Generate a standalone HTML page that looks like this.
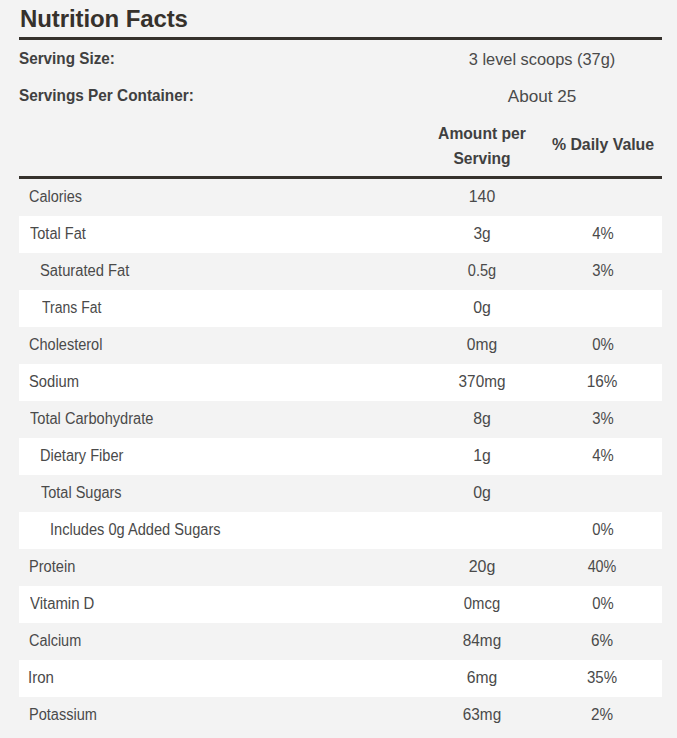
<!DOCTYPE html>
<html><head><meta charset="utf-8">
<style>
html,body{margin:0;padding:0;background:#f3f3f3;width:677px;height:738px;overflow:hidden;}
body{font-family:"Liberation Sans",sans-serif;color:#4a4a4a;position:relative;}
.h1{position:absolute;left:20px;top:4px;margin:0;font-size:24px;font-weight:bold;color:#36312c;line-height:30px;white-space:nowrap;letter-spacing:-0.1px;}
.rule{position:absolute;left:19px;width:643px;height:3px;background:#35312c;}
.t{position:absolute;white-space:nowrap;line-height:20px;}
.b{font-weight:bold;color:#404040;}
.row{position:absolute;left:19px;width:643px;height:37px;}
.w{background:#fff;}
.r{font-size:16px;letter-spacing:0px;}
</style></head><body>

<div class="h1">Nutrition Facts</div>
<div class="rule" style="top:37px"></div>
<div class="rule" style="top:176px"></div>
<div class="row" style="top:179px"></div>
<div class="row w" style="top:216px"></div>
<div class="row" style="top:253px"></div>
<div class="row w" style="top:290px"></div>
<div class="row" style="top:327px"></div>
<div class="row w" style="top:364px"></div>
<div class="row" style="top:401px"></div>
<div class="row w" style="top:438px"></div>
<div class="row" style="top:475px"></div>
<div class="row w" style="top:512px"></div>
<div class="row" style="top:549px"></div>
<div class="row w" style="top:586px"></div>
<div class="row" style="top:623px"></div>
<div class="row w" style="top:660px"></div>
<div class="row" style="top:697px"></div>
<div id="ss" class="t b" style="top:48.00px;left:18.80px;transform:scale(0.9251,1.0000);transform-origin:0 0;font-size:16.5px;">Serving Size:</div>
<div id="ssv" class="t r" style="top:50.00px;left:541.60px;transform:translateX(-50%) scale(1.0232,1.0000);transform-origin:50% 0;">3 level scoops (37g)</div>
<div id="spc" class="t b" style="top:85.00px;left:18.60px;transform:scale(0.9299,1.0000);transform-origin:0 0;font-size:16.5px;">Servings Per Container:</div>
<div id="spcv" class="t r" style="top:87.00px;left:541.60px;transform:translateX(-50%) scale(1.0694,1.0000);transform-origin:50% 0;">About 25</div>
<div id="amt1" class="t b" style="top:124.00px;left:481.50px;transform:translateX(-50%) scale(0.9776,1.0000);transform-origin:50% 0;font-size:16px;">Amount per</div>
<div id="amt2" class="t b" style="top:149.00px;left:482.00px;transform:translateX(-50%) scale(0.9736,1.0000);transform-origin:50% 0;font-size:16px;">Serving</div>
<div id="dvh" class="t b" style="top:135.00px;left:602.70px;transform:translateX(-50%) scale(0.9910,1.0000);transform-origin:50% 0;font-size:16px;">% Daily Value</div>
<div id="n0" class="t r" style="top:186.50px;left:28.90px;transform:scale(0.9010,1.0000);transform-origin:0 0;">Calories</div>
<div id="a0" class="t r" style="top:186.50px;left:481.55px;transform:translateX(-50%) scale(0.9889,1.0000);transform-origin:50% 0;">140</div>
<div id="n1" class="t r" style="top:223.50px;left:30.35px;transform:scale(0.9090,1.0000);transform-origin:0 0;">Total Fat</div>
<div id="a1" class="t r" style="top:223.50px;left:482.00px;transform:translateX(-50%) scale(0.9664,1.0000);transform-origin:50% 0;">3g</div>
<div id="d1" class="t r" style="top:223.50px;left:602.65px;transform:translateX(-50%) scale(0.9263,1.0000);transform-origin:50% 0;">4%</div>
<div id="n2" class="t r" style="top:260.50px;left:39.90px;transform:scale(0.9222,1.0000);transform-origin:0 0;">Saturated Fat</div>
<div id="a2" class="t r" style="top:260.50px;left:481.95px;transform:translateX(-50%) scale(0.9087,1.0000);transform-origin:50% 0;">0.5g</div>
<div id="d2" class="t r" style="top:260.50px;left:602.65px;transform:translateX(-50%) scale(0.9263,1.0000);transform-origin:50% 0;">3%</div>
<div id="n3" class="t r" style="top:297.50px;left:41.50px;transform:scale(0.8745,1.0000);transform-origin:0 0;">Trans Fat</div>
<div id="a3" class="t r" style="top:297.50px;left:481.70px;transform:translateX(-50%) scale(0.9909,1.0000);transform-origin:50% 0;">0g</div>
<div id="n4" class="t r" style="top:334.50px;left:28.90px;transform:scale(0.9072,1.0000);transform-origin:0 0;">Cholesterol</div>
<div id="a4" class="t r" style="top:334.50px;left:481.50px;transform:translateX(-50%) scale(0.9749,1.0000);transform-origin:50% 0;">0mg</div>
<div id="d4" class="t r" style="top:334.50px;left:602.60px;transform:translateX(-50%) scale(0.9352,1.0000);transform-origin:50% 0;">0%</div>
<div id="n5" class="t r" style="top:371.50px;left:28.90px;transform:scale(0.9202,1.0000);transform-origin:0 0;">Sodium</div>
<div id="a5" class="t r" style="top:371.50px;left:481.50px;transform:translateX(-50%) scale(0.9559,1.0000);transform-origin:50% 0;">370mg</div>
<div id="d5" class="t r" style="top:371.50px;left:602.40px;transform:translateX(-50%) scale(0.9564,1.0000);transform-origin:50% 0;">16%</div>
<div id="n6" class="t r" style="top:408.50px;left:30.40px;transform:scale(0.9124,1.0000);transform-origin:0 0;">Total Carbohydrate</div>
<div id="a6" class="t r" style="top:408.50px;left:481.70px;transform:translateX(-50%) scale(0.9909,1.0000);transform-origin:50% 0;">8g</div>
<div id="d6" class="t r" style="top:408.50px;left:602.65px;transform:translateX(-50%) scale(0.9263,1.0000);transform-origin:50% 0;">3%</div>
<div id="n7" class="t r" style="top:445.50px;left:40.25px;transform:scale(0.9105,1.0000);transform-origin:0 0;">Dietary Fiber</div>
<div id="a7" class="t r" style="top:445.50px;left:481.80px;transform:translateX(-50%) scale(0.9833,1.0000);transform-origin:50% 0;">1g</div>
<div id="d7" class="t r" style="top:445.50px;left:602.65px;transform:translateX(-50%) scale(0.9263,1.0000);transform-origin:50% 0;">4%</div>
<div id="n8" class="t r" style="top:482.50px;left:41.25px;transform:scale(0.9060,1.0000);transform-origin:0 0;">Total Sugars</div>
<div id="a8" class="t r" style="top:482.50px;left:481.70px;transform:translateX(-50%) scale(0.9909,1.0000);transform-origin:50% 0;">0g</div>
<div id="n9" class="t r" style="top:519.50px;left:50.30px;transform:scale(0.9131,1.0000);transform-origin:0 0;">Includes 0g Added Sugars</div>
<div id="d9" class="t r" style="top:519.50px;left:602.65px;transform:translateX(-50%) scale(0.9263,1.0000);transform-origin:50% 0;">0%</div>
<div id="n10" class="t r" style="top:556.50px;left:28.90px;transform:scale(0.9135,1.0000);transform-origin:0 0;">Protein</div>
<div id="a10" class="t r" style="top:556.50px;left:482.30px;transform:translateX(-50%) scale(0.9981,1.0000);transform-origin:50% 0;">20g</div>
<div id="d10" class="t r" style="top:556.50px;left:602.40px;transform:translateX(-50%) scale(0.8965,1.0000);transform-origin:50% 0;">40%</div>
<div id="n11" class="t r" style="top:593.50px;left:29.90px;transform:scale(0.9317,1.0000);transform-origin:0 0;">Vitamin D</div>
<div id="a11" class="t r" style="top:593.50px;left:482.15px;transform:translateX(-50%) scale(0.9270,1.0000);transform-origin:50% 0;">0mcg</div>
<div id="d11" class="t r" style="top:593.50px;left:602.65px;transform:translateX(-50%) scale(0.9263,1.0000);transform-origin:50% 0;">0%</div>
<div id="n12" class="t r" style="top:630.50px;left:28.90px;transform:scale(0.9030,1.0000);transform-origin:0 0;">Calcium</div>
<div id="a12" class="t r" style="top:630.50px;left:482.00px;transform:translateX(-50%) scale(0.9592,1.0000);transform-origin:50% 0;">84mg</div>
<div id="d12" class="t r" style="top:630.50px;left:601.60px;transform:translateX(-50%) scale(0.9541,1.0000);transform-origin:50% 0;">6%</div>
<div id="n13" class="t r" style="top:667.50px;left:27.90px;transform:scale(0.9390,1.0000);transform-origin:0 0;">Iron</div>
<div id="a13" class="t r" style="top:667.50px;left:481.55px;transform:translateX(-50%) scale(0.9797,1.0000);transform-origin:50% 0;">6mg</div>
<div id="d13" class="t r" style="top:667.50px;left:601.85px;transform:translateX(-50%) scale(0.9399,1.0000);transform-origin:50% 0;">35%</div>
<div id="n14" class="t r" style="top:704.50px;left:28.90px;transform:scale(0.9103,1.0000);transform-origin:0 0;">Potassium</div>
<div id="a14" class="t r" style="top:704.50px;left:482.00px;transform:translateX(-50%) scale(0.9592,1.0000);transform-origin:50% 0;">63mg</div>
<div id="d14" class="t r" style="top:704.50px;left:601.60px;transform:translateX(-50%) scale(0.9541,1.0000);transform-origin:50% 0;">2%</div>
</body></html>
